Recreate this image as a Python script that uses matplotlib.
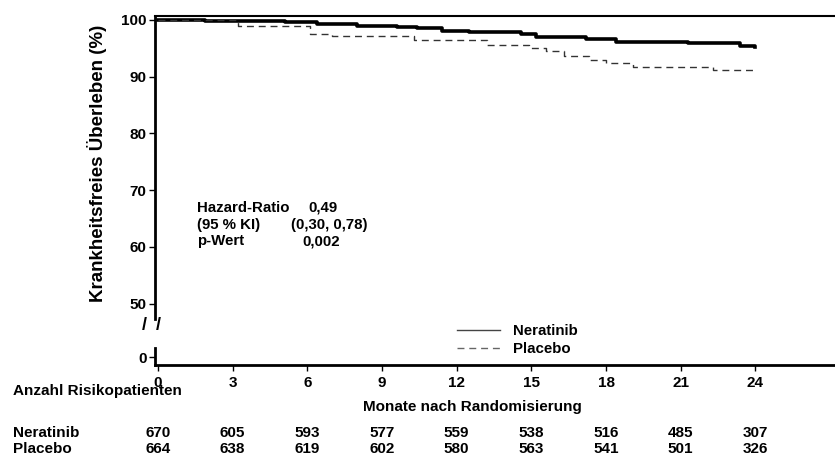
import matplotlib.pyplot as plt
import matplotlib.transforms as mtransforms
from matplotlib.lines import Line2D

plt.rcParams['font.family'] = ['Liberation Sans', 'DejaVu Sans']
plt.rcParams['font.weight'] = 'bold'

# Kaplan-Meier steps (months, % event-free)
nera_t = [0, 1.9, 5.1, 6.4, 8.0, 9.6, 10.4, 11.4, 12.5, 14.6, 15.2, 17.2, 18.4, 21.3, 23.4, 24.0]
nera_s = [100, 99.8, 99.6, 99.3, 99.0, 98.8, 98.5, 98.1, 97.8, 97.5, 97.0, 96.6, 96.1, 95.9, 95.4, 95.2]
plac_t = [0, 3.2, 6.1, 7.0, 10.3, 13.2, 14.9, 15.6, 16.3, 17.3, 18.0, 19.1, 22.3, 24.0]
plac_s = [100, 98.9, 97.6, 97.2, 96.4, 95.6, 95.0, 94.5, 93.7, 93.0, 92.4, 91.7, 91.2, 90.8]

months = [0, 3, 6, 9, 12, 15, 18, 21, 24]
risk_nera = [670, 605, 593, 577, 559, 538, 516, 485, 307]
risk_plac = [664, 638, 619, 602, 580, 563, 541, 501, 326]

W, H = 835, 455
fig = plt.figure(figsize=(W / 100, H / 100), dpi=100)


def fx(px):
    return px / W


def fy(py):
    return 1 - py / H


# upper panel (50-100) and a small lower panel for the 0 after the break
ax = fig.add_axes([fx(155), fy(319), 1 - fx(155), fy(16) - fy(319)])
axb = fig.add_axes([fx(155), fy(365), 1 - fx(155), fy(348) - fy(365)], sharex=ax)

ax.step(nera_t, nera_s, where='post', color='black', lw=2.6)
ax.step(plac_t, plac_s, where='post', color='#333333', lw=1.0, dashes=(5, 3.5))

ax.set_xlim(-0.12, 27.2)
ax.set_ylim(47.3, 100.7)
ax.set_yticks([50, 60, 70, 80, 90, 100])
ax.tick_params(axis='y', labelsize=11, length=4, width=1, pad=2)
ax.tick_params(axis='x', bottom=False, labelbottom=False)
for lab in ax.get_yticklabels():
    lab.set_fontweight('bold')
ax.spines['right'].set_visible(False)
ax.spines['bottom'].set_visible(False)
ax.spines['left'].set_linewidth(2)
ax.spines['top'].set_linewidth(1.5)

axb.set_ylim(-1.41, 1.59)
axb.set_yticks([0])
axb.set_xticks(months)
axb.tick_params(axis='y', labelsize=11, length=4, width=1, pad=2)
axb.tick_params(axis='x', labelsize=11, length=4, width=1, pad=4)
for lab in axb.get_yticklabels() + axb.get_xticklabels():
    lab.set_fontweight('bold')
axb.spines['right'].set_visible(False)
axb.spines['top'].set_visible(False)
axb.spines['left'].set_linewidth(2)
axb.spines['bottom'].set_linewidth(2)
axb.patch.set_alpha(0)

# axis break marks
fig.text(fx(144), fy(326), '/', fontsize=13, ha='center', va='center')
fig.text(fx(158), fy(326), '/', fontsize=13, ha='center', va='center')

fig.text(fx(97), fy(163), 'Krankheitsfreies Überleben (%)', rotation=90,
         fontsize=13.5, ha='center', va='center')

# statistics box
stat_lab = ['Hazard-Ratio', '(95 % KI)', 'p-Wert']
stat_val = ['0,49', '(0,30, 0,78)', '0,002']
stat_x = [308, 291, 302]
for i, (lab, val) in enumerate(zip(stat_lab, stat_val)):
    yy = fy(208 + 16.5 * i)
    fig.text(fx(197), yy, lab, fontsize=10.8, ha='left', va='center')
    fig.text(fx(stat_x[i]), yy, val, fontsize=10.8, ha='left', va='center')

# legend
handles = [Line2D([], [], color='#444444', lw=1),
           Line2D([], [], color='#666666', lw=1, dashes=(5, 3.5))]
fig.legend(handles, ['Neratinib', 'Placebo'], loc='center left',
           bbox_to_anchor=(fx(443), fy(340)), frameon=False, fontsize=10.8,
           handlelength=2.9, handletextpad=0.9, labelspacing=0.3)

# risk table
trans = mtransforms.blended_transform_factory(axb.transData, fig.transFigure)
fig.text(fx(13), fy(391), 'Anzahl Risikopatienten', fontsize=11, ha='left', va='center')
fig.text(fx(472), fy(407), 'Monate nach Randomisierung', fontsize=11, ha='center', va='center')
fig.text(fx(13), fy(433), 'Neratinib', fontsize=11, ha='left', va='center')
fig.text(fx(13), fy(449), 'Placebo', fontsize=11, ha='left', va='center')
for m, a, b in zip(months, risk_nera, risk_plac):
    axb.text(m, fy(433), str(a), transform=trans, fontsize=11, ha='center', va='center')
    axb.text(m, fy(449), str(b), transform=trans, fontsize=11, ha='center', va='center')

fig.savefig('out.png', dpi=100)
